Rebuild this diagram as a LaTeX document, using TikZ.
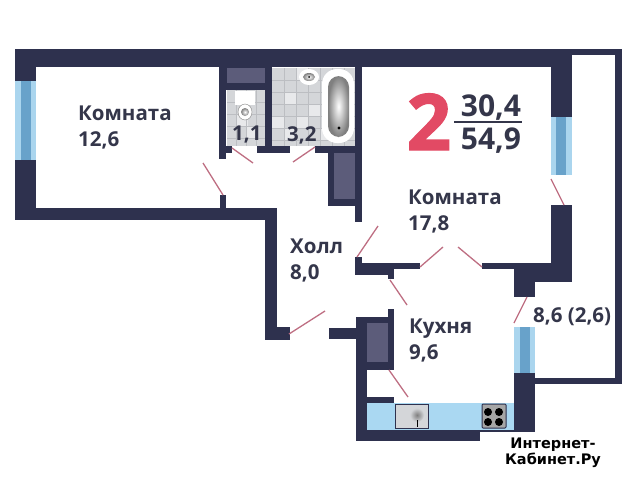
\documentclass[tikz,border=0pt]{standalone}
\usepackage{fontspec}
\setmainfont{Open Sans}
\newfontfamily\heavyfont[BoldFeatures={FakeBold=1.6}]{Open Sans}
\newfontfamily\markfont{DejaVu Sans}
\usepackage{xcolor}
\usepackage{tikz}
\usetikzlibrary{positioning}
\definecolor{walldark}{RGB}{46,49,78}
\definecolor{shaftgray}{RGB}{92,92,122}
\definecolor{tilegray}{RGB}{212,214,217}
\definecolor{tilelight}{RGB}{232,233,235}
\definecolor{tileline}{RGB}{188,190,194}
\definecolor{glasslight}{RGB}{170,213,238}
\definecolor{glassmid}{RGB}{104,162,202}
\definecolor{counterblue}{RGB}{170,216,242}
\definecolor{doorline}{RGB}{190,110,130}
\definecolor{labelred}{RGB}{226,74,100}
\definecolor{labeldark}{RGB}{52,54,74}
\tikzset{
  wall/.style={fill=walldark,draw=none},
  door/.style={doorline,line width=1.3pt},
  label/.style={text=labeldark,font=\fontsize{20.5}{26}\selectfont\bfseries,align=left,anchor=north west,inner sep=0pt},
  figure/.style={text=labeldark,font=\fontsize{30}{30}\selectfont\bfseries,inner sep=0pt,anchor=base}
}
\begin{document}
\begin{tikzpicture}[x=1pt,y=-1pt]
\useasboundingbox (0,0) rectangle (636,480);
% floors with tiles
\fill[tilegray] (227,90) rectangle (265,146);
\fill[tilegray] (272,68) rectangle (355,146);
\foreach \x/\y in {284/92,296/68,296/116,308/104,272/116,320/128,284/128,236/114,246/126}
  \fill[tilelight] (\x,\y) rectangle ++(12,12);
\foreach \x in {284,296,308,320,332,344}
  \draw[tileline] (\x,68) -- (\x,146);
\foreach \y in {80,92,104,116,128,140}
  \draw[tileline] (272,\y) -- (355,\y);
\foreach \x in {236,246,256}
  \draw[tileline] (\x,90) -- (\x,146);
\foreach \y in {102,114,126,138}
  \draw[tileline] (227,\y) -- (265,\y);
% outer walls
\fill[wall] (15,49) rectangle (572,67);
\fill[wall] (15,49) rectangle (36,81);
\fill[wall] (15,160) rectangle (36,220);
\fill[wall] (15,208) rectangle (277,220);
\fill[wall] (265,208) rectangle (277,340);
\fill[wall] (265,327) rectangle (290,340);
\fill[wall] (329,328) rectangle (356,339);
\fill[wall] (551,49) rectangle (572,117);
\fill[wall] (551,205) rectangle (572,282);
\fill[wall] (514,263) rectangle (572,282);
\fill[wall] (514,263) rectangle (535,297);
\fill[wall] (514,373) rectangle (535,432);
\fill[wall] (356,430) rectangle (535,441);
\fill[wall] (356,317) rectangle (367,441);
% balcony
\fill[wall] (572,49) rectangle (622,55);
\fill[wall] (615,49) rectangle (622,384);
\fill[wall] (535,378) rectangle (622,384);
% inner walls
\fill[wall] (219,67) rectangle (226,159);
\fill[wall] (220,195) rectangle (226,208);
\fill[wall] (226,146) rectangle (232,153);
\fill[wall] (257,146) rectangle (290,153);
\fill[wall] (315,146) rectangle (356,153);
\fill[wall] (265,67) rectangle (272,153);
\fill[wall] (226,67) rectangle (265,90);
\fill[wall] (355,49) rectangle (362,222);
\fill[wall] (328,153) rectangle (355,206);
\fill[wall] (355,257) rectangle (362,275);
\fill[wall] (355,263) rectangle (420,269);
\fill[wall] (355,269) rectangle (394,275);
\fill[wall] (388,275) rectangle (394,279);
\fill[wall] (482,263) rectangle (551,269);
\fill[wall] (356,317) rectangle (394,370);
\fill[wall] (388,309) rectangle (394,317);
\fill[wall] (367,397) rectangle (394,403);
% shafts
\fill[shaftgray] (227,68) rectangle (265,83);
\fill[shaftgray] (334,153) rectangle (355,199);
\fill[shaftgray] (367,323) rectangle (388,362);
% windows
\foreach \l/\t/\b/\m in {15/81/160/21,551/117/175/556,514/327/373/520} {
  \fill[glasslight] (\l,\t) rectangle (\l+21,\b);
  \fill[glassmid] (\m,\t) rectangle (\m+9.5,\b);
}
% bath
\fill[white,rounded corners=15pt] (322,69) rectangle (354,143);
\shade[inner color=white,outer color=gray,rounded corners=11pt] (328,76) rectangle (349,137);
\fill[black] (339,128) circle (1.6);
\fill[white] (309,77) ellipse (10 and 8);
\shade[inner color=white,outer color=gray] (309,77) ellipse (6 and 4);
\fill[black] (309,77) circle (1);
% toilet
\fill[white] (235,91) rectangle (255,105);
\filldraw[fill=white,draw=gray] (245,112) ellipse (7 and 8);
\shade[inner color=white,outer color=gray] (245,112) circle (4);
% kitchen counter
\fill[counterblue] (367,403) rectangle (514,430);
\filldraw[fill=tilegray,draw=walldark,line width=1pt] (395,404) rectangle (428,428);
\shade[inner color=gray,outer color=tilegray] (417,415) circle (7);
\draw[black] (417,420) -- (417,427);
\filldraw[fill=gray!70,draw=walldark,line width=1pt,rounded corners=1pt] (482,404) rectangle (506,428);
\foreach \x/\y in {488/412,499/412,488/422,499/422}
  \fill[black] (\x,\y) circle (4);
% doors
\foreach \a/\b/\c/\d in {232/148/253/163,315/147/293/162,223/195/203/163,289/334/325/311,357/257/378/226,420/267/443/247,482/267/458/247,390/280/407/305,389/370/408/397,551/179/564/205,527/297/514/323}
  \draw[door] (\a,\b) -- (\c,\d);
% labels
\node[label] (room1) at (78,106) {Комната\\12,6};
\node[label] (wc) at (232,126) {1,1};
\node[label] (bath) at (287,126) {3,2};
\node[label] (room2) at (408,190) {Комната\\17,8};
\node[label] (hall) at (290,239) {Холл\\8,0};
\node[label] (kitchen) at (409,319) {Кухня\\9,6};
\node[label] (balcony) at (533,307) {8,6 (2,6)};
\node[text=labelred,font=\heavyfont\fontsize{78}{78}\selectfont\bfseries,inner sep=0pt,anchor=base] (rooms) at (429,150) {2};
\node[figure] (living) at (491,116) {30,4};
\node[figure] (total) at (491,149) {54,9};
\draw[labeldark,line width=1.4pt] (454,122) -- (522,122);
% watermark
\fill[white] (480,432) rectangle (636,480);
\node[text=black,font=\markfont\fontsize{14.5}{16}\selectfont\bfseries,align=center,inner sep=0pt] (mark) at (553,453) {Интернет-\\Кабинет.Ру};
\end{tikzpicture}
\end{document}
